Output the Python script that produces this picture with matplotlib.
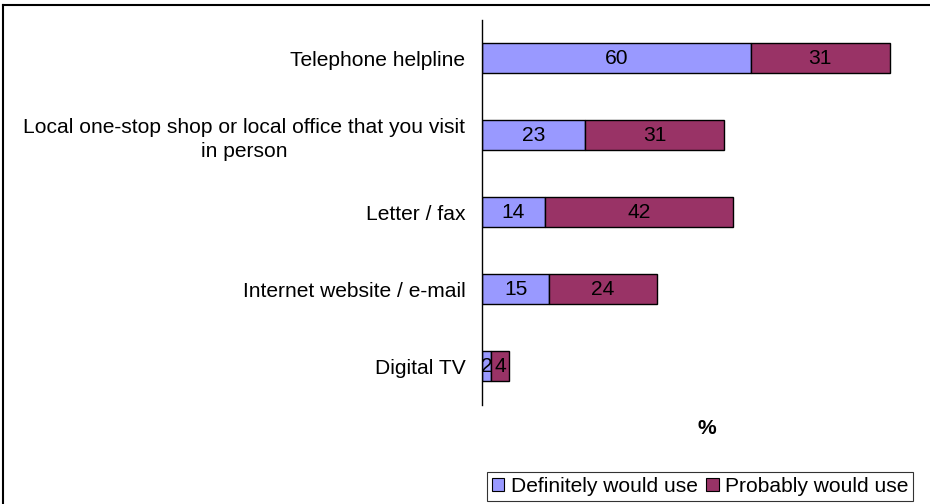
import matplotlib
matplotlib.use("Agg")
import matplotlib.pyplot as plt
from matplotlib.patches import Patch
from matplotlib.lines import Line2D

plt.rcParams['font.family'] = ['Liberation Sans', 'DejaVu Sans']

# Channels people would use, share of respondents (%)
categories = [
    "Telephone helpline",
    "Local one-stop shop or local office that you visit\nin person",
    "Letter / fax",
    "Internet website / e-mail",
    "Digital TV",
]
definitely = [60, 23, 14, 15, 2]
probably = [31, 31, 42, 24, 4]
series_names = ["Definitely would use", "Probably would use"]

col_def = "#9999FF"
col_prob = "#993366"
fs = 15.1

W, H = 930, 504
fig = plt.figure(figsize=(W / 100, H / 100), dpi=100)
ax = fig.add_axes([482 / W, (H - 404.5) / H, 448 / W, 385 / H])

ypos = list(range(len(categories)))
ax.barh(ypos, definitely, height=0.4, color=col_def, edgecolor="black", linewidth=1)
ax.barh(ypos, probably, left=definitely, height=0.4, color=col_prob,
        edgecolor="black", linewidth=1)

for y, d, p in zip(ypos, definitely, probably):
    ax.text(d / 2, y, str(d), ha="center", va="center", fontsize=fs)
    ax.text(d + p / 2, y, str(p), ha="center", va="center", fontsize=fs)

ax.set_xlim(0, 100)
ax.set_ylim(len(categories) - 0.5, -0.5)
ax.set_yticks(ypos)
ax.set_yticklabels(categories, fontsize=fs, multialignment="center",
                   linespacing=1.35)
ax.tick_params(axis="y", length=0, pad=12)
ax.set_xticks([])
for side in ("top", "right", "bottom"):
    ax.spines[side].set_visible(False)
ax.spines["left"].set_linewidth(1)

fig.text(707 / W, 1 - 428 / H, "%", ha="center", va="center",
         fontsize=fs, fontweight="bold")

# outer chart border (only top and left edges fall inside the canvas)
fig.add_artist(Line2D([3 / W, 1.01], [1 - 5 / H, 1 - 5 / H],
                      transform=fig.transFigure, color="black", linewidth=1.5))
fig.add_artist(Line2D([3 / W, 3 / W], [1 - 5 / H, -0.01],
                      transform=fig.transFigure, color="black", linewidth=1.5))

handles = [Patch(facecolor=col_def, edgecolor="black", linewidth=0.8),
           Patch(facecolor=col_prob, edgecolor="black", linewidth=0.8)]
leg = fig.legend(handles, series_names, loc="center", ncol=2,
                 bbox_to_anchor=(700 / W, 1 - 486.5 / H),
                 bbox_transform=fig.transFigure, fontsize=fs,
                 frameon=True, fancybox=False, shadow=False,
                 handlelength=0.6, handleheight=0.6, handletextpad=0.3,
                 columnspacing=0.4, borderpad=0.25, borderaxespad=0)
leg.get_frame().set_edgecolor("black")
leg.get_frame().set_linewidth(0.8)

fig.savefig("out.png", dpi=100)
